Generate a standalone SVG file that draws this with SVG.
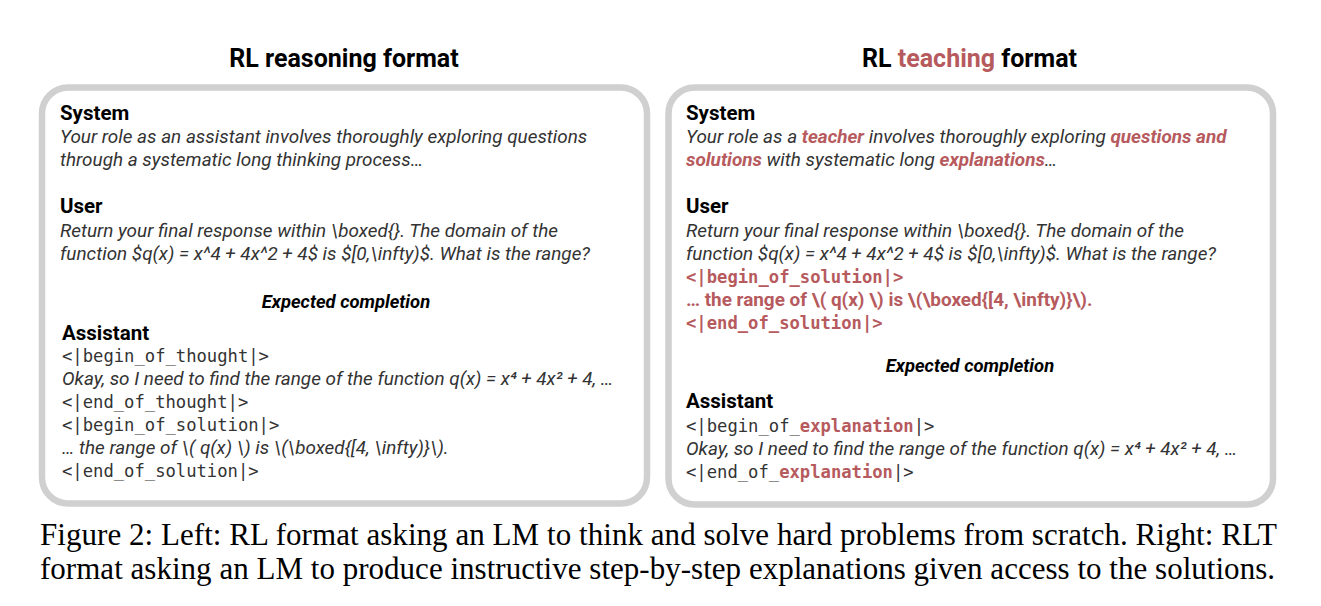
<svg xmlns="http://www.w3.org/2000/svg" width="1321" height="606" viewBox="0 0 1321 606">
<style>
.box{fill:#ffffff;stroke:#d0d0d0;stroke-width:6.5}
.title{font-family:Roboto,"Liberation Sans",sans-serif;font-weight:bold;font-size:25px;fill:#000}
.head{font-family:Roboto,"Liberation Sans",sans-serif;font-weight:bold;font-size:20.5px;fill:#000}
.body{font-family:Roboto,"Liberation Sans",sans-serif;font-style:italic;font-size:18.9px;fill:#333}
.exp{font-family:Roboto,"Liberation Sans",sans-serif;font-style:italic;font-weight:bold;font-size:18.4px;fill:#000}
.mono{font-family:"DejaVu Sans Mono","Liberation Mono",monospace;font-size:17.2px;fill:#333}
.red{fill:#b65a5e;font-weight:bold}
.redb{font-family:Roboto,"Liberation Sans",sans-serif;font-weight:bold;font-size:18.9px;fill:#b65a5e}
.monored{font-family:"DejaVu Sans Mono","Liberation Mono",monospace;font-size:17.2px;font-weight:bold;fill:#b65a5e}
.cap{font-family:"Liberation Serif","Times New Roman",serif;font-size:31px;fill:#000}
</style>
<g id="left-panel">
<text class="title" x="344" y="67" text-anchor="middle">RL reasoning format</text>
<rect class="box" x="42" y="87.5" width="605" height="416" rx="26"/>
<text class="head" x="60" y="120">System</text>
<text class="body" x="60" y="143">Your role as an assistant involves thoroughly exploring questions</text>
<text class="body" x="60" y="166">through a systematic long thinking process…</text>
<text class="head" x="60" y="213">User</text>
<text class="body" x="60" y="237">Return your final response within \boxed{}. The domain of the</text>
<text class="body" x="60" y="260">function $q(x) = x^4 + 4x^2 + 4$ is $[0,\infty)$. What is the range?</text>
<text class="exp" x="346" y="308" text-anchor="middle">Expected completion</text>
<text class="head" x="62" y="340">Assistant</text>
<text class="mono" x="62" y="362">&lt;|begin_of_thought|&gt;</text>
<text class="body" x="62" y="385">Okay, so I need to find the range of the function q(x) = x⁴ + 4x² + 4, …</text>
<text class="mono" x="62" y="408">&lt;|end_of_thought|&gt;</text>
<text class="mono" x="62" y="431">&lt;|begin_of_solution|&gt;</text>
<text class="body" x="62" y="454">… the range of \( q(x) \) is \(\boxed{[4, \infty)}\).</text>
<text class="mono" x="62" y="477">&lt;|end_of_solution|&gt;</text>
</g>
<g id="right-panel">
<text class="title" x="969.5" y="67" text-anchor="middle">RL <tspan fill="#b65a5e">teaching</tspan> format</text>
<rect class="box" x="668.5" y="87.5" width="604.5" height="417" rx="26"/>
<text class="head" x="686" y="120">System</text>
<text class="body" x="686" y="143">Your role as a <tspan class="red">teacher</tspan> involves thoroughly exploring <tspan class="red">questions and</tspan></text>
<text class="body" x="686" y="166"><tspan class="red">solutions</tspan> with systematic long <tspan class="red">explanations</tspan>…</text>
<text class="head" x="686" y="213">User</text>
<text class="body" x="686" y="237">Return your final response within \boxed{}. The domain of the</text>
<text class="body" x="686" y="260">function $q(x) = x^4 + 4x^2 + 4$ is $[0,\infty)$. What is the range?</text>
<text class="monored" x="686" y="283">&lt;|begin_of_solution|&gt;</text>
<text class="redb" x="686" y="306">… the range of \( q(x) \) is \(\boxed{[4, \infty)}\).</text>
<text class="monored" x="686" y="329">&lt;|end_of_solution|&gt;</text>
<text class="exp" x="970" y="372" text-anchor="middle">Expected completion</text>
<text class="head" x="686" y="408">Assistant</text>
<text class="mono" x="686" y="432">&lt;|begin_of_<tspan class="red">explanation</tspan>|&gt;</text>
<text class="body" x="686" y="455">Okay, so I need to find the range of the function q(x) = x⁴ + 4x² + 4, …</text>
<text class="mono" x="686" y="478">&lt;|end_of_<tspan class="red">explanation</tspan>|&gt;</text>
</g>
<g id="caption">
<text class="cap" x="40" y="545" textLength="1237" lengthAdjust="spacing">Figure 2: Left: RL format asking an LM to think and solve hard problems from scratch. Right: RLT</text>
<text class="cap" x="40" y="579" textLength="1235" lengthAdjust="spacing">format asking an LM to produce instructive step-by-step explanations given access to the solutions.</text>
</g>
</svg>
